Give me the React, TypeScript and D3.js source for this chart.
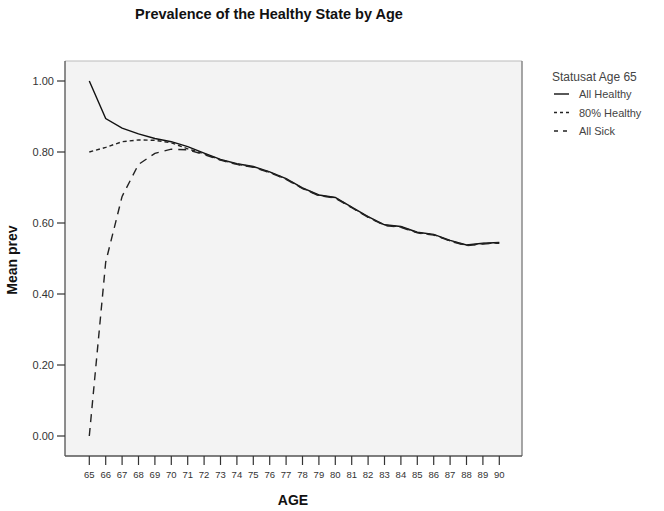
import React from "react";
import * as d3 from "d3";

const ages = [65,66,67,68,69,70,71,72,73,74,75,76,77,78,79,80,81,82,83,84,85,86,87,88,89,90];
const allHealthy = [1.0,0.894,0.867,0.851,0.838,0.829,0.815,0.797,0.779,0.767,0.759,0.744,0.725,0.699,0.679,0.672,0.645,0.618,0.595,0.59,0.574,0.568,0.551,0.538,0.543,0.545];
const healthy80 = [0.80,0.813,0.829,0.834,0.833,0.826,0.809,0.795,0.778,0.766,0.758,0.743,0.724,0.698,0.678,0.671,0.644,0.617,0.594,0.589,0.573,0.567,0.55,0.537,0.542,0.544];
const allSick = [0.0,0.49,0.675,0.765,0.796,0.808,0.806,0.793,0.777,0.765,0.757,0.742,0.723,0.697,0.677,0.67,0.643,0.616,0.593,0.588,0.572,0.566,0.549,0.536,0.541,0.543];
const yTicks = [0, 0.2, 0.4, 0.6, 0.8, 1.0];
const seriesNames = ["All Healthy", "80% Healthy", "All Sick"];

const W = 664, H = 511;
const frame = { left: 65, top: 61, right: 522, bottom: 456 };

export default function App() {
  const x = d3.scaleLinear().domain([65, 90]).range([89.3, 499.3]);
  const y = d3.scaleLinear().domain([0, 1]).range([436, 81]);
  const line = d3.line<[number, number]>().x(d => x(d[0])).y(d => y(d[1]));
  const series = [allHealthy, healthy80, allSick];
  const styles = [
    { dash: "none", color: "#111", width: 1.4 },
    { dash: "4,3", color: "#222", width: 1.4 },
    { dash: "8,6", color: "#222", width: 1.4 },
  ];
  const font = "Arial, 'Liberation Sans', sans-serif";
  return (
    <svg width={W} height={H} style={{ position: "absolute", left: 0, top: 0, fontFamily: font }}>
      <rect x={0} y={0} width={W} height={H} fill="#fff" />
      <text x={269} y={19} textAnchor="middle" fontSize={14.5} fontWeight="bold" fill="#111">
        Prevalence of the Healthy State by Age
      </text>
      <rect x={frame.left} y={frame.top} width={frame.right - frame.left} height={frame.bottom - frame.top} fill="#f3f3f3" />
      <line x1={frame.left} x2={frame.right} y1={frame.top} y2={frame.top} stroke="#bbb" strokeWidth={1} />
      <line x1={frame.right} x2={frame.right} y1={frame.top} y2={frame.bottom} stroke="#888" strokeWidth={1.5} />
      <line x1={frame.left} x2={frame.left} y1={frame.top} y2={frame.bottom} stroke="#444" strokeWidth={1.2} />
      <line x1={frame.left} x2={frame.right} y1={frame.bottom} y2={frame.bottom} stroke="#555" strokeWidth={1.5} />
      {yTicks.map(t => (
        <g key={t}>
          <line x1={57} x2={frame.left} y1={y(t)} y2={y(t)} stroke="#333" strokeWidth={1.2} />
          <text x={54} y={y(t) + 4} textAnchor="end" fontSize={11} fill="#333">{t.toFixed(2)}</text>
        </g>
      ))}
      {ages.map(a => (
        <g key={a}>
          <line x1={x(a)} x2={x(a)} y1={frame.bottom} y2={frame.bottom + 9} stroke="#333" strokeWidth={1.2} />
          <text x={x(a)} y={478} textAnchor="middle" fontSize={9.5} fill="#333">{a}</text>
        </g>
      ))}
      <text x={293} y={505} textAnchor="middle" fontSize={14} fontWeight="bold" fill="#111">AGE</text>
      <text transform={`translate(17,260) rotate(-90)`} textAnchor="middle" fontSize={14} fontWeight="bold" fill="#111">Mean prev</text>
      {series.map((s, i) => (
        <path key={i} d={line(ages.map((a, j) => [a, s[j]] as [number, number])) || ""} fill="none"
          stroke={styles[i].color} strokeWidth={styles[i].width} strokeDasharray={styles[i].dash} />
      ))}
      <text x={552} y={81} fontSize={12} fill="#444">Statusat Age 65</text>
      {seriesNames.map((n, i) => (
        <g key={n}>
          <line x1={554} x2={569} y1={94 + i * 18.5} y2={94 + i * 18.5} stroke={styles[i].color}
            strokeWidth={1.4} strokeDasharray={i === 0 ? "none" : i === 1 ? "3,3" : "4,5"} />
          <text x={579} y={98 + i * 18.5} fontSize={11} fill="#444">{n}</text>
        </g>
      ))}
    </svg>
  );
}
